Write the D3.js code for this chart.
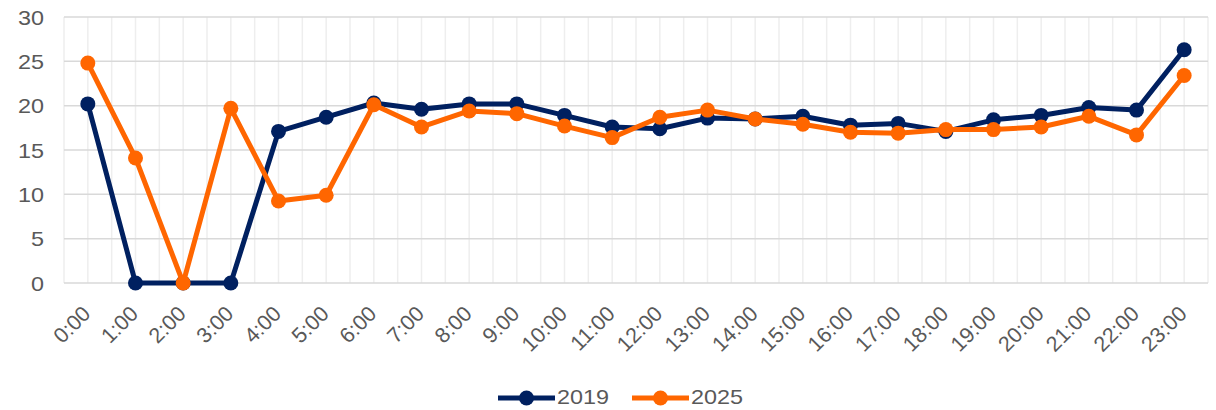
<!DOCTYPE html>
<html>
<head>
<script src="https://d3js.org/d3.v7.min.js"></script>
<style>
  body { margin: 0; background: #fff; }
  text { font-family: "Liberation Sans", Arial, sans-serif; fill: #595959; }
</style>
</head>
<body>
<svg id="chart" width="1216" height="410"></svg>
<script>
const hours = ["0:00","1:00","2:00","3:00","4:00","5:00","6:00","7:00","8:00","9:00","10:00","11:00",
  "12:00","13:00","14:00","15:00","16:00","17:00","18:00","19:00","20:00","21:00","22:00","23:00"]
const v2019 = [20.2,0,0,0,17.1,18.7,20.3,19.6,20.2,20.2,18.9,17.6,17.4,18.6,18.5,18.8,17.8,18.0,17.1,18.4,18.9,19.8,19.5,26.3]
const v2025 = [24.8,14.1,0,19.7,9.25,9.9,20.1,17.6,19.4,19.1,17.7,16.4,18.7,19.5,18.5,17.9,17.0,16.9,17.3,17.3,17.6,18.8,16.7,23.4]
const yTicks = [0,5,10,15,20,25,30]
const series = [
  { name: "2019", values: v2019, color: "#002060" },
  { name: "2025", values: v2025, color: "#FF6600" }
]

const svg = d3.select("#chart")
const plotL = 64, plotR = 1208, plotT = 17, plotB = 283
const stretch = 1.17  // text in the original is a bit wider than tall

const x = d3.scaleBand().domain(hours).range([plotL, plotR])
const y = d3.scaleLinear().domain([0, 30]).range([plotB, plotT])
const cx = (h) => x(h) + x.bandwidth() / 2

// grid: vertical lines at category edges and centers
const grid = svg.append("g")
const vx = []
hours.forEach((h) => { vx.push(x(h)); vx.push(cx(h)) })
vx.push(plotR)
grid.selectAll(".vg").data(vx).enter().append("line")
  .attr("x1", d => d).attr("x2", d => d).attr("y1", plotT).attr("y2", plotB)
  .attr("stroke", "#eeeeee").attr("stroke-width", 1.5)
grid.selectAll(".hg").data(yTicks).enter().append("line")
  .attr("x1", plotL).attr("x2", plotR).attr("y1", d => y(d)).attr("y2", d => y(d))
  .attr("stroke", "#d9d9d9").attr("stroke-width", 1.5)

// y labels
svg.selectAll(".ylab").data(yTicks).enter().append("text")
  .attr("transform", d => `translate(44,${y(d) + 7.5}) scale(${stretch},1)`)
  .attr("text-anchor", "end").attr("font-size", 20)
  .text(d => d)

// x labels
svg.selectAll(".xlab").data(hours).enter().append("text")
  .attr("text-anchor", "end").attr("font-size", 21.5)
  .attr("transform", d => `translate(${cx(d) + 4},${plotB + 32}) rotate(-45)`)
  .text(d => d)

// lines
const line = d3.line().x((d, i) => cx(hours[i])).y(d => y(d))
series.forEach((s) => {
  svg.append("path").datum(s.values)
    .attr("d", line).attr("fill", "none")
    .attr("stroke", s.color).attr("stroke-width", 5).attr("stroke-linejoin", "round")
  svg.selectAll(null).data(s.values).enter().append("circle")
    .attr("cx", (d, i) => cx(hours[i])).attr("cy", d => y(d)).attr("r", 7.5)
    .attr("fill", s.color)
})

// legend
const legend = svg.append("g")
const lx = [498, 632]
series.forEach((s, i) => {
  const g = legend.append("g").attr("transform", `translate(${lx[i]},398)`)
  g.append("line").attr("x1", 0).attr("x2", 57).attr("stroke", s.color).attr("stroke-width", 5)
  g.append("circle").attr("cx", 28.5).attr("cy", 0).attr("r", 7.5).attr("fill", s.color)
  g.append("text").attr("transform", `translate(59,5.5) scale(${stretch},1)`)
    .attr("font-size", 20).text(s.name)
})
</script>
</body>
</html>
